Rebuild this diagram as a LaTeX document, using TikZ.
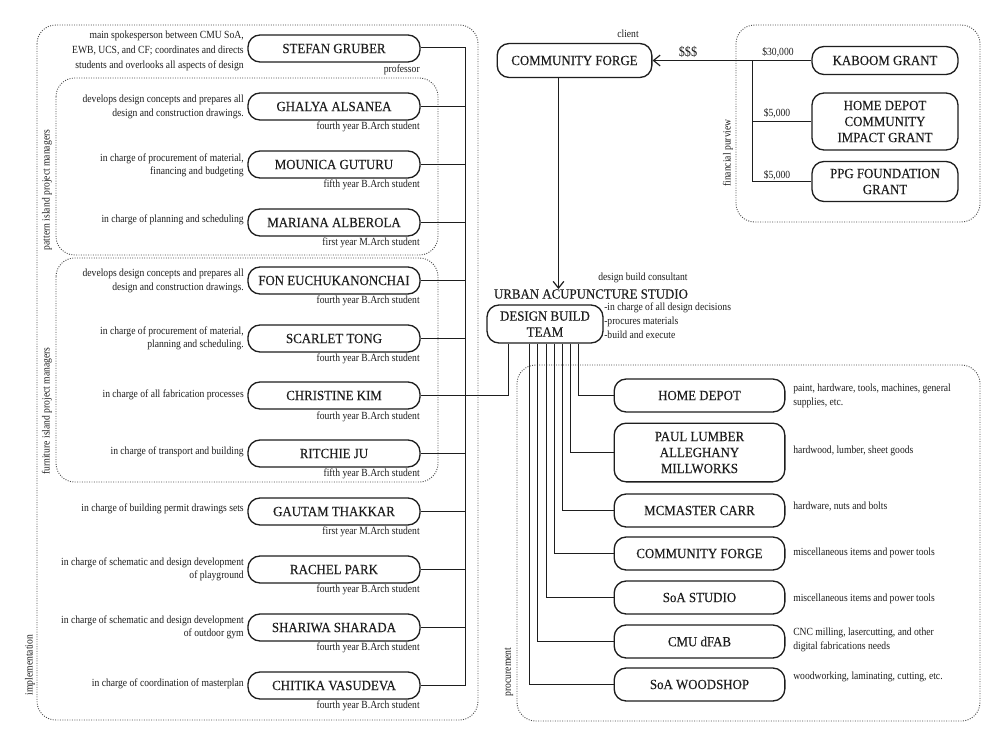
\documentclass[tikz,border=0pt]{standalone}
\usepackage{fontspec}
\setmainfont{Liberation Serif}
\newfontfamily\namefam[FakeStretch=0.92,FakeBold=0.25]{Liberation Serif}
\newfontfamily\descfam[FakeStretch=0.88]{Liberation Serif}
\newcommand\nmfont{\namefam\fontsize{10.5}{12}\selectfont}
\newcommand\dsfont{\descfam\fontsize{8.2}{10}\selectfont}
\usetikzlibrary{arrows.meta,calc}
\definecolor{ink}{HTML}{1E1E1E}
\definecolor{dotc}{HTML}{4A4A4A}
\tikzset{
  box/.style={draw=ink, line width=1pt, rounded corners=9pt, align=center, inner sep=1pt, font=\nmfont, text=ink},
  lbox/.style={box, minimum width=129pt, minimum height=20.25pt},
  pbox/.style={box, minimum width=128pt, minimum height=24.75pt},
  gbox/.style={box, minimum width=109.5pt},
  desc/.style={font=\dsfont, text=ink, inner sep=0pt},
  ldesc/.style={desc, anchor=east, align=right},
  rdesc/.style={desc, anchor=west, align=left},
  role/.style={desc, anchor=east},
  conn/.style={draw=ink, line width=0.9pt},
  arr/.style={conn, -{Straight Barb[length=5pt,width=8pt]}},
  group/.style={draw=dotc, line width=0.7pt, dash pattern=on 0.7pt off 1.1pt, rounded corners=14pt},
  glabel/.style={desc, rotate=90}
}
\begin{document}
\begin{tikzpicture}[x=0.75pt,y=-0.75pt]
\path[use as bounding box, fill=white] (0,0) rectangle (1000,750);

% dotted groups
\draw[group] (37,25) rectangle (478,720);
\draw[group] (56,78) rectangle (438,255);
\draw[group] (56,258) rectangle (438,482);
\draw[group] (736,25) rectangle (980,222);
\draw[group] (517,365) rectangle (980,721);
\node[glabel] (gimpl) at (30,665) {implementation};
\node[glabel] (gpat) at (47,190) {pattern island project managers};
\node[glabel] (gfur) at (47,411) {furniture island project managers};
\node[glabel] (gfin) at (728,153) {financial purview};
\node[glabel] (gproc) at (509,672) {procurement};

% left column people
\node[lbox] (p1) at (334,48.5) {STEFAN GRUBER};
\node[lbox] (p2) at (334,106.5) {GHALYA ALSANEA};
\node[lbox] (p3) at (334,164.5) {MOUNICA GUTURU};
\node[lbox] (p4) at (334,222.5) {MARIANA ALBEROLA};
\node[lbox] (p5) at (334,280.5) {FON EUCHUKANONCHAI};
\node[lbox] (p6) at (334,338.5) {SCARLET TONG};
\node[lbox] (p7) at (334,395.5) {CHRISTINE KIM};
\node[lbox] (p8) at (334,453.5) {RITCHIE JU};
\node[lbox] (p9) at (334,511.5) {GAUTAM THAKKAR};
\node[lbox] (p10) at (334,569.5) {RACHEL PARK};
\node[lbox] (p11) at (334,627.5) {SHARIWA SHARADA};
\node[lbox] (p12) at (334,685.5) {CHITIKA VASUDEVA};

\node[ldesc, font=\descfam\fontsize{8.2}{11}\selectfont] (d1) at (244,51) {main spokesperson between CMU SoA,\\EWB, UCS, and CF; coordinates and directs\\students and overlooks all aspects of design};
\node[ldesc] (d2) at (244,107) {develops design concepts and prepares all\\design and construction drawings.};
\node[ldesc] (d3) at (244,165) {in charge of procurement of material,\\financing and budgeting};
\node[ldesc] (d4) at (244,220) {in charge of planning and scheduling};
\node[ldesc] (d5) at (244,281) {develops design concepts and prepares all\\design and construction drawings.};
\node[ldesc] (d6) at (244,338) {in charge of procurement of material,\\planning and scheduling.};
\node[ldesc] (d7) at (244,395) {in charge of all fabrication processes};
\node[ldesc] (d8) at (244,452) {in charge of transport and building};
\node[ldesc] (d9) at (244,509) {in charge of building permit drawings sets};
\node[ldesc] (d10) at (244,569) {in charge of schematic and design development\\of playground};
\node[ldesc] (d11) at (244,627) {in charge of schematic and design development\\of outdoor gym};
\node[ldesc] (d12) at (244,684) {in charge of coordination of masterplan};

\node[role] (r1) at (420,69.5) {professor};
\node[role] (r2) at (420,127) {fourth year B.Arch student};
\node[role] (r3) at (420,185) {fifth year B.Arch student};
\node[role] (r4) at (420,243) {first year M.Arch student};
\node[role] (r5) at (420,301) {fourth year B.Arch student};
\node[role] (r6) at (420,359) {fourth year B.Arch student};
\node[role] (r7) at (420,416.5) {fourth year B.Arch student};
\node[role] (r8) at (420,474) {fifth year B.Arch student};
\node[role] (r9) at (420,532) {first year M.Arch student};
\node[role] (r10) at (420,590) {fourth year B.Arch student};
\node[role] (r11) at (420,648) {fourth year B.Arch student};
\node[role] (r12) at (420,706) {fourth year B.Arch student};

% spine
\coordinate (spT) at (465.5,47.5);
\coordinate (spB) at (465.5,685.5);
\draw[conn] (spT) -- (spB);
\foreach \n in {p2,p3,p4,p5,p6,p8,p9,p10,p11,p12}{
  \draw[conn] (\n.east) -- (\n.east -| spT);
}
\draw[conn] (p1.east |- spT) -- (spT);

% client
\node[box, minimum width=116pt, minimum height=25.5pt] (cf) at (574.5,60.5) {COMMUNITY FORGE};
\node[desc] (client) at (628,34) {client};

% grants
\node[gbox, minimum height=21pt] (kaboom) at (885,60.5) {KABOOM GRANT};
\node[gbox, minimum height=42.75pt] (hdcig) at (885,121.5) {HOME DEPOT\\COMMUNITY\\IMPACT GRANT};
\node[gbox, minimum height=30pt] (ppg) at (885,181.5) {PPG FOUNDATION\\GRANT};
\coordinate (gj) at (752.5,60.5);
\draw[arr] (kaboom.west) -- (cf.east);
\draw[conn] (gj) |- (ppg.west);
\draw[conn] (hdcig.west) -- (hdcig.west -| gj);
\node[font=\descfam\fontsize{10.5}{12}\selectfont, text=ink, inner sep=0pt] (money) at (688,52) {\$\$\$};
\node[desc] (m1) at (778,52) {\$30,000};
\node[desc] (m2) at (777,113) {\$5,000};
\node[desc] (m3) at (777,175) {\$5,000};

% design build team
\node[font=\nmfont, text=ink, inner sep=0pt] (uas) at (591,294) {URBAN ACUPUNCTURE STUDIO};
\node[desc] (dbc) at (643,278) {design build consultant};
\node[box, minimum width=87pt, minimum height=28.5pt] (dbt) at (545,324) {DESIGN BUILD\\TEAM};
\node[desc, anchor=north west, align=left, font=\descfam\fontsize{8.2}{10.2}\selectfont] (bul) at (604,303) {-in charge of all design decisions\\-procures materials\\-build and execute};
\coordinate (cfo) at ($(cf.south west)+(62,0)$);
\draw[arr] (cfo) -- (cfo |- uas.north);

% Christine link
\draw[conn] (p7.east) -| ($(dbt.south west)+(22,0)$);

% procurement
\node[pbox] (q1) at (699.5,395.5) {HOME DEPOT};
\node[pbox, minimum height=44pt] (q2) at (699.5,452.5) {PAUL LUMBER\\ALLEGHANY\\MILLWORKS};
\node[pbox] (q3) at (699.5,510.5) {MCMASTER CARR};
\node[pbox] (q4) at (699.5,553.5) {COMMUNITY FORGE};
\node[pbox] (q5) at (699.5,597.5) {SoA STUDIO};
\node[pbox] (q6) at (699.5,641.5) {CMU dFAB};
\node[pbox] (q7) at (699.5,684.5) {SoA WOODSHOP};

\draw[conn] ($(dbt.south west)+(92,0)$) |- (q1.west);
\draw[conn] ($(dbt.south west)+(84,0)$) |- (q2.west);
\draw[conn] ($(dbt.south west)+(76,0)$) |- (q3.west);
\draw[conn] ($(dbt.south west)+(68,0)$) |- (q4.west);
\draw[conn] ($(dbt.south west)+(60,0)$) |- (q5.west);
\draw[conn] ($(dbt.south west)+(51,0)$) |- (q6.west);
\draw[conn] ($(dbt.south west)+(43,0)$) |- (q7.west);

\node[rdesc] (e1) at (793,396) {paint, hardware, tools, machines, general\\supplies, etc.};
\node[rdesc] (e2) at (793,451) {hardwood, lumber, sheet goods};
\node[rdesc] (e3) at (793,507) {hardware, nuts and bolts};
\node[rdesc] (e4) at (793,553) {miscellaneous items and power tools};
\node[rdesc] (e5) at (793,599) {miscellaneous items and power tools};
\node[rdesc] (e6) at (793,640) {CNC milling, lasercutting, and other\\digital fabrications needs};
\node[rdesc] (e7) at (793,677) {woodworking, laminating, cutting, etc.};
\end{tikzpicture}
\end{document}
